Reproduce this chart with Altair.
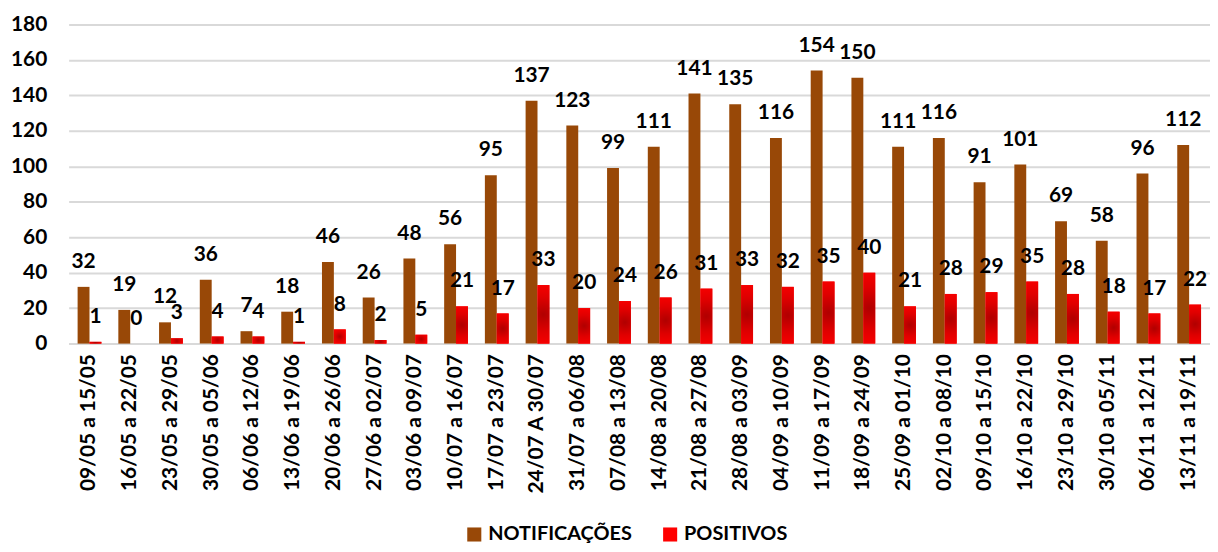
import altair as alt
import pandas as pd

weeks = ["09/05 a 15/05", "16/05 a 22/05", "23/05 a 29/05", "30/05 a 05/06",
         "06/06 a 12/06", "13/06 a 19/06", "20/06 a 26/06", "27/06 a 02/07",
         "03/06 a 09/07", "10/07 a 16/07", "17/07 a 23/07", "24/07 A 30/07",
         "31/07 a 06/08", "07/08 a 13/08", "14/08 a 20/08", "21/08 a 27/08",
         "28/08 a 03/09", "04/09 a 10/09", "11/09 a 17/09", "18/09 a 24/09",
         "25/09 a 01/10", "02/10 a 08/10", "09/10 a 15/10", "16/10 a 22/10",
         "23/10 a 29/10", "30/10 a 05/11", "06/11 a 12/11", "13/11 a 19/11"]
notificacoes = [32, 19, 12, 36, 7, 18, 46, 26, 48, 56, 95, 137, 123, 99, 111, 141,
                135, 116, 154, 150, 111, 116, 91, 101, 69, 58, 96, 112]
positivos = [1, 0, 3, 4, 4, 1, 8, 2, 5, 21, 17, 33, 20, 24, 26, 31,
             33, 32, 35, 40, 21, 28, 29, 35, 28, 18, 17, 22]
series = ["NOTIFICAÇÕES", "POSITIVOS"]
colors = ["#984807", "#FF0000"]

rows = []
for w, n, p in zip(weeks, notificacoes, positivos):
    rows.append({"week": w, "series": series[0], "value": n})
    rows.append({"week": w, "series": series[1], "value": p})
df = pd.DataFrame(rows)

FONT = "Lato"

x = alt.X("week:N", sort=weeks, title=None,
          scale=alt.Scale(paddingInner=0.416, paddingOuter=0.22),
          axis=alt.Axis(labelAngle=-90, labelFont=FONT, labelFontSize=21,
                        labelFontWeight="bold", labelColor="#000000",
                        labelPadding=10, ticks=False, domain=True,
                        domainColor="#D9D9D9", domainWidth=2,
                        labelLimit=300))
xo = alt.XOffset("series:N", sort=series,
                 scale=alt.Scale(domain=series, paddingInner=0, paddingOuter=0))
y = alt.Y("value:Q", title=None,
          scale=alt.Scale(domain=[0, 180], nice=False),
          axis=alt.Axis(values=list(range(0, 181, 20)), labelFont=FONT,
                        labelFontSize=21, labelFontWeight="bold",
                        labelColor="#000000", labelPadding=22, ticks=False,
                        domain=False, grid=True, gridColor="#D9D9D9",
                        gridWidth=2))

base = alt.Chart(df)

bars = base.mark_bar().encode(
    x=x, xOffset=xo, y=y,
    color=alt.Color("series:N", sort=series,
                    scale=alt.Scale(domain=series, range=colors),
                    legend=alt.Legend(title=None, orient="none", legendX=398,
                                      legendY=503, direction="horizontal",
                                      symbolType="square", symbolSize=200,
                                      symbolStrokeWidth=0,
                                      labelFont=FONT, labelFontSize=20,
                                      labelFontWeight="bold",
                                      labelColor="#000000", columnPadding=28,
                                      symbolOffset=0, labelOffset=4)),
)

red_grad = base.transform_filter(alt.datum.series == series[1]).mark_bar(
    color=alt.Gradient(gradient="radial", x1=0.5, y1=0.5, x2=0.5, y2=0.5,
                       r1=0, r2=0.6,
                       stops=[alt.GradientStop(color="#B00000", offset=0),
                              alt.GradientStop(color="#E00000", offset=0.5),
                              alt.GradientStop(color="#FF0000", offset=1)])
).encode(x=x, xOffset=xo, y=y)

labels = base.mark_text(baseline="bottom", dy=-15, font=FONT, fontSize=21,
                        fontWeight="bold", color="#000000").encode(
    x=x, xOffset=xo, y=y, text="value:Q")

chart = alt.layer(bars, red_grad, labels).properties(
    width=1148, height=321,
    autosize=alt.AutoSizeParams(type="none"),
    padding={"left": 61, "top": 15, "right": 0, "bottom": 200},
).configure_view(stroke=None)

chart.save("out.html", embed_options={"renderer": "svg", "actions": False})
